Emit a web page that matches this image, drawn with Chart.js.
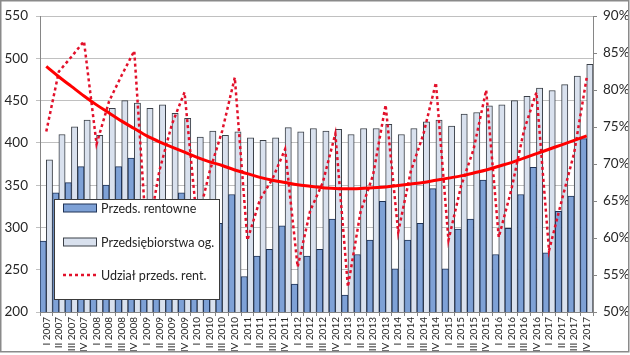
<!DOCTYPE html>
<html><head><meta charset="utf-8">
<script src="https://cdn.jsdelivr.net/npm/chart.js@4/dist/chart.umd.min.js"></script>
<style>html,body{margin:0;padding:0;background:#fff}#wrap{width:630px;height:355px;position:relative}canvas{display:block}</style>
</head><body><div id="wrap"><canvas id="c" width="630" height="355"></canvas></div>
<script>
const categories = [
 "I 2007","II 2007","III 2007","IV 2007","I 2008","II 2008","III 2008","IV 2008",
 "I 2009","II 2009","III 2009","IV 2009","I 2010","II 2010","III 2010","IV 2010",
 "I 2011","II 2011","III 2011","IV 2011","I 2012","II 2012","III 2012","IV 2012",
 "I 2013","II 2013","III 2013","IV 2013","I 2014","II 2014","III 2014","IV 2014",
 "I 2015","II 2015","III 2015","IV 2015","I 2016","II 2016","III 2016","IV 2016",
 "I 2017","II 2017","III 2017","IV 2017"];
const rentowne = [
 284,341,353,372, 298,350,372,382, 262,308,328,341, 252,286,305,339,
 242,266,274,302, 233,266,274,310, 220,268,285,331, 251,285,305,346,
 251,298,310,356, 268,299,339,371, 270,319,337,405];
const ogolem = [
 380,410,419,427, 409,441,450,447, 441,445,435,429, 407,414,409,413,
 406,403,406,418, 413,417,414,416, 410,417,417,422, 410,417,425,427,
 420,434,436,444, 445,450,455,465, 462,469,479,493];
const udzial = [
 74.4,82.5,84.5,86.6, 72.7,78.5,82.0,85.3, 59.5,69.1,75.4,79.7, 62.0,69.0,74.5,81.7,
 59.7,65.2,68.0,72.0, 56.1,63.7,67.5,74.1, 53.4,63.5,68.5,78.0, 60.8,69.0,74.0,81.0,
 59.7,67.0,72.0,80.0, 60.1,66.5,74.5,79.7, 58.3,65.0,71.5,81.7];
const trend = [
 83.2,81.8,80.5,79.2, 78.0,76.9,75.8,74.8, 73.8,73.0,72.3,71.6, 70.9,70.3,69.8,69.2,
 68.7,68.2,67.8,67.5, 67.2,67.0,66.8,66.7, 66.65,66.7,66.8,66.9, 67.1,67.3,67.5,67.8,
 68.1,68.4,68.8,69.2, 69.7,70.2,70.8,71.4, 72.0,72.6,73.2,73.8];
const leftRange = [200, 550, 50];
const rightRange = [50, 90, 5];

Chart.defaults.font.family = 'Lato, "Open Sans", sans-serif';
Chart.defaults.color = '#262626';

const legendPlugin = {
  id: 'customLegend',
  afterDraw(chart) {
    const ctx = chart.ctx;
    ctx.save();
    const bx = 54.5, by = 199.5, bw = 165, bh = 100;
    ctx.fillStyle = '#fff';
    ctx.fillRect(bx, by, bw, bh);
    ctx.strokeStyle = '#3a3a3a';
    ctx.lineWidth = 1;
    ctx.strokeRect(bx, by, bw, bh);
    const ds = chart.data.datasets;
    const rows = [208, 242, 275];
    ctx.font = '12.5px Lato, "Open Sans", sans-serif';
    ctx.textBaseline = 'middle';
    for (let i = 0; i < 3; i++) {
      const d = ds[i], y = rows[i];
      if (i < 2) {
        ctx.fillStyle = d.backgroundColor;
        ctx.fillRect(63.5, y - 4, 33, 8);
        ctx.strokeStyle = d.borderColor;
        ctx.strokeRect(63.5, y - 4, 33, 8);
      } else {
        ctx.strokeStyle = d.borderColor;
        ctx.lineWidth = 2.5;
        ctx.setLineDash([3, 3]);
        ctx.beginPath(); ctx.moveTo(63, y); ctx.lineTo(97, y); ctx.stroke();
        ctx.setLineDash([]);
        ctx.lineWidth = 1;
      }
      ctx.fillStyle = '#262626';
      ctx.textAlign = 'left';
      ctx.fillText(d.label, 101, y + 0.5);
    }
    ctx.strokeStyle = '#8a8a8a';
    ctx.lineWidth = 1.5;
    ctx.strokeRect(0.75, 0.75, 628, 351);
    ctx.restore();
  }
};

new Chart(document.getElementById('c'), {
  type: 'bar',
  data: {
    labels: categories,
    datasets: [
      {label: 'Przeds. rentowne', data: rentowne, backgroundColor: '#7ea1d6', borderColor: '#1f3356', borderWidth: 1, yAxisID: 'y', order: 2},
      {label: 'Przedsiębiorstwa og.', data: ogolem, backgroundColor: '#d9e1ee', borderColor: '#3b4048', borderWidth: 1, yAxisID: 'y', order: 2},
      {type: 'line', label: 'Udział przeds. rent.', data: udzial, borderColor: '#e2112b', borderWidth: 2.5, borderDash: [3, 3], pointRadius: 0, tension: 0, yAxisID: 'y1', order: 1},
      {type: 'line', label: 'trend', data: trend, borderColor: '#ff0000', borderWidth: 3, pointRadius: 0, cubicInterpolationMode: 'monotone', yAxisID: 'y1', order: 0}
    ]
  },
  options: {
    responsive: false, animation: false, devicePixelRatio: 1,
    layout: {padding: {top: 15, left: 0, right: 0, bottom: 0}},
    plugins: {legend: {display: false}, tooltip: {enabled: false}},
    datasets: {bar: {categoryPercentage: 1, barPercentage: 1}},
    scales: {
      x: {
        offset: true,
        grid: {display: true, drawOnChartArea: false, offset: true, tickLength: 4, color: '#868686'},
        border: {color: '#868686'},
        ticks: {autoSkip: false, minRotation: 90, maxRotation: 90, font: {size: 10}, padding: 1, color: '#262626'},
        afterFit(s) { s.height = 43; }
      },
      y: {
        position: 'left', min: leftRange[0], max: leftRange[1],
        ticks: {stepSize: leftRange[2], font: {size: 13.5}, padding: 8, color: '#262626'},
        grid: {color: '#c0c0c0', tickLength: 4},
        border: {color: '#868686'},
        afterFit(s) { s.width = 40; }
      },
      y1: {
        position: 'right', min: rightRange[0], max: rightRange[1],
        ticks: {stepSize: rightRange[2], callback: v => v + '%', font: {size: 13.5}, padding: 6, color: '#262626'},
        grid: {drawOnChartArea: false, tickLength: 4, color: '#868686'},
        border: {color: '#868686'},
        afterFit(s) { s.width = 37; }
      }
    }
  },
  plugins: [legendPlugin]
});
</script>
</body></html>
